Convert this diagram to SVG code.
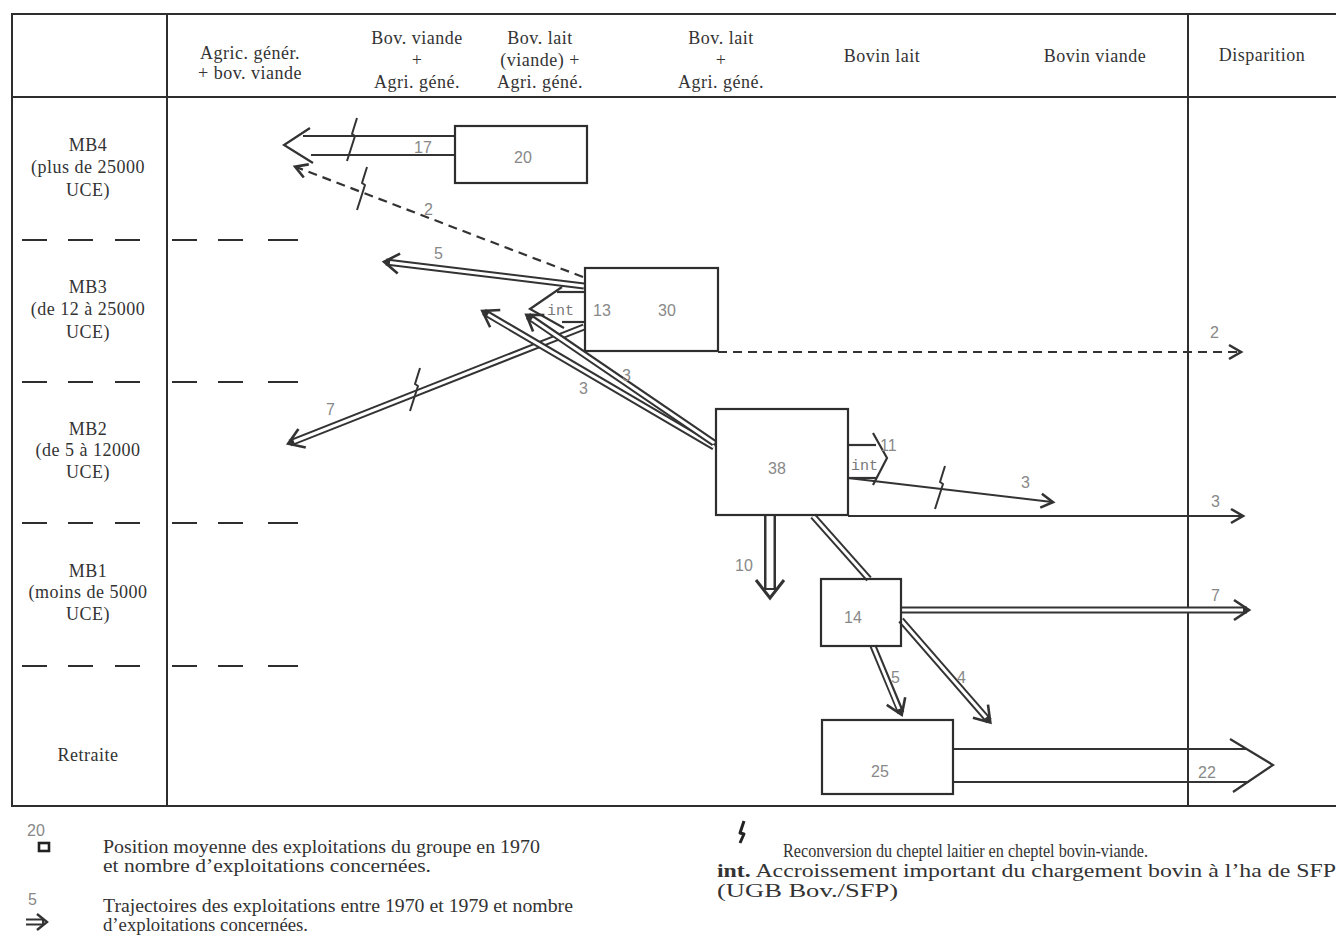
<svg xmlns="http://www.w3.org/2000/svg" xmlns:xlink="http://www.w3.org/1999/xlink" width="1336" height="943" viewBox="0 0 1336 943">
<style>
.frame line{stroke:#2e2e2e;stroke-width:2;fill:none}
.sep line{stroke:#2e2e2e;stroke-width:2}
.box{fill:none;stroke:#2e2e2e;stroke-width:2.2}
.hd{font-family:"Liberation Serif",serif;font-size:18px;letter-spacing:0.5px;fill:#333;text-anchor:middle}
.num{font-family:"Liberation Sans",sans-serif;font-size:16px;fill:#888}
.mono{font-family:"Liberation Mono",monospace;font-size:15px;fill:#777}
.lg{font-family:"Liberation Serif",serif;font-size:18px;fill:#333}
.o{fill:none;stroke:#333;stroke-width:7}
.i{fill:none;stroke:#fff;stroke-width:3}
.ow{fill:none;stroke:#333;stroke-width:12}
.iw{fill:none;stroke:#fff;stroke-width:7}
.d{fill:none;stroke:#333;stroke-width:2.2;stroke-dasharray:9 6}
.ln{fill:none;stroke:#333;stroke-width:2.2}
.bolt{fill:none;stroke:#333;stroke-width:2;stroke-linejoin:round}
</style>
<defs>
<marker id="ch" markerUnits="userSpaceOnUse" orient="auto" refX="0" refY="0" markerWidth="40" markerHeight="40" viewBox="-20 -20 40 40" overflow="visible">
<path d="M-13,-10 L2,0 L-13,10" fill="none" stroke="#333" stroke-width="2.6"/>
</marker>
<marker id="chs" markerUnits="userSpaceOnUse" orient="auto" refX="0" refY="0" markerWidth="30" markerHeight="30" viewBox="-15 -15 30 30" overflow="visible">
<path d="M-11,-7 L1,0 L-11,7" fill="none" stroke="#333" stroke-width="2.6"/>
</marker>
<path id="bolt" d="M5,-21 L0,-5 L3,-3 L-5,22"/>
</defs>
<rect width="1336" height="943" fill="#fff"/>

<g id="frame" class="frame">
<line x1="12" y1="14" x2="1336" y2="14"/>
<line x1="12" y1="97" x2="1336" y2="97"/>
<line x1="12" y1="806" x2="1336" y2="806"/>
<line x1="12" y1="13" x2="12" y2="807"/>
<line x1="167" y1="14" x2="167" y2="806"/>
<line x1="1188" y1="14" x2="1188" y2="806"/>
</g>

<g id="row-separators" class="sep">
<line x1="22" y1="240" x2="47" y2="240"/><line x1="68" y1="240" x2="93" y2="240"/><line x1="115" y1="240" x2="140" y2="240"/><line x1="172" y1="240" x2="197" y2="240"/><line x1="218" y1="240" x2="243" y2="240"/><line x1="268" y1="240" x2="298" y2="240"/>
<line x1="22" y1="382" x2="47" y2="382"/><line x1="68" y1="382" x2="93" y2="382"/><line x1="115" y1="382" x2="140" y2="382"/><line x1="172" y1="382" x2="197" y2="382"/><line x1="218" y1="382" x2="243" y2="382"/><line x1="268" y1="382" x2="298" y2="382"/>
<line x1="22" y1="523" x2="47" y2="523"/><line x1="68" y1="523" x2="93" y2="523"/><line x1="115" y1="523" x2="140" y2="523"/><line x1="172" y1="523" x2="197" y2="523"/><line x1="218" y1="523" x2="243" y2="523"/><line x1="268" y1="523" x2="298" y2="523"/>
<line x1="22" y1="666" x2="47" y2="666"/><line x1="68" y1="666" x2="93" y2="666"/><line x1="115" y1="666" x2="140" y2="666"/><line x1="172" y1="666" x2="197" y2="666"/><line x1="218" y1="666" x2="243" y2="666"/><line x1="268" y1="666" x2="298" y2="666"/>
</g>

<g id="column-headers">
<text class="hd" x="250" y="59">Agric. génér.</text>
<text class="hd" x="250" y="79">+ bov. viande</text>
<text class="hd" x="417" y="44">Bov. viande</text>
<text class="hd" x="417" y="66">+</text>
<text class="hd" x="417" y="88">Agri. géné.</text>
<text class="hd" x="540" y="44">Bov. lait</text>
<text class="hd" x="540" y="66">(viande) +</text>
<text class="hd" x="540" y="88">Agri. géné.</text>
<text class="hd" x="721" y="44">Bov. lait</text>
<text class="hd" x="721" y="66">+</text>
<text class="hd" x="721" y="88">Agri. géné.</text>
<text class="hd" x="882" y="62">Bovin lait</text>
<text class="hd" x="1095" y="62">Bovin viande</text>
<text class="hd" x="1262" y="61">Disparition</text>
</g>

<g id="row-labels">
<text class="hd" x="88" y="151">MB4</text>
<text class="hd" x="88" y="173">(plus de 25000</text>
<text class="hd" x="88" y="196">UCE)</text>
<text class="hd" x="88" y="293">MB3</text>
<text class="hd" x="88" y="315">(de 12 à 25000</text>
<text class="hd" x="88" y="338">UCE)</text>
<text class="hd" x="88" y="435">MB2</text>
<text class="hd" x="88" y="456">(de 5 à 12000</text>
<text class="hd" x="88" y="478">UCE)</text>
<text class="hd" x="88" y="577">MB1</text>
<text class="hd" x="88" y="598">(moins de 5000</text>
<text class="hd" x="88" y="620">UCE)</text>
<text class="hd" x="88" y="761">Retraite</text>
</g>

<g id="connectors">
<g id="arrow-17">
<line class="ln" x1="455" y1="136" x2="303" y2="136"/>
<line class="ln" x1="455" y1="155" x2="311" y2="155"/>
<polyline class="ln" points="310,128 284,145 313,163"/>
<use href="#bolt" class="bolt" x="352" y="139"/>
<text class="num" x="414" y="153">17</text>
</g>
<g id="arrow-2a">
<path class="d" d="M583,277 L296,167" marker-end="url(#chs)"/>
<use href="#bolt" class="bolt" x="362" y="188"/>
<text class="num" x="424" y="215">2</text>
</g>
<g id="arrow-5a">
<path class="o" d="M584,286 L386,262" marker-end="url(#ch)"/>
<path class="i" d="M584,286 L390,262.5"/>
<text class="num" x="434" y="259">5</text>
</g>
<g id="arrow-int30">
<line class="ln" x1="585" y1="292" x2="557" y2="292"/>
<line class="ln" x1="585" y1="322" x2="562" y2="322"/>
<polyline class="ln" points="562,287 530,309 564,328"/>
<text class="mono" x="547" y="315">int</text>
</g>
<g id="arrow-7a">
<path class="o" d="M584,327 L290,443" marker-end="url(#ch)"/>
<path class="i" d="M584,327 L294,441.5"/>
<use href="#bolt" class="bolt" x="415" y="389"/>
<text class="num" x="326" y="415">7</text>
</g>
<g id="arrow-3a">
<path class="o" d="M714,447 L484,312" marker-end="url(#ch)"/>
<path class="i" d="M714,447 L488,314.5"/>
<text class="num" x="579" y="394">3</text>
</g>
<g id="arrow-3b">
<path class="o" d="M714,443 L528,316" marker-end="url(#ch)"/>
<path class="i" d="M714,443 L532,319"/>
<text class="num" x="622" y="381">3</text>
</g>
<g id="arrow-2b">
<path class="d" d="M718,352 L1240,352" marker-end="url(#chs)"/>
<text class="num" x="1210" y="338">2</text>
</g>
<g id="arrow-int38">
<line class="ln" x1="848" y1="445" x2="876" y2="445"/>
<line class="ln" x1="848" y1="478" x2="877" y2="478"/>
<polyline class="ln" points="873,433 887,458 873,485"/>
<text class="mono" x="851" y="470">int</text>
<text class="num" x="880" y="451">11</text>
</g>
<g id="arrow-3c">
<path class="ln" d="M848,478 L1052,502" marker-end="url(#chs)"/>
<use href="#bolt" class="bolt" x="940" y="487"/>
<text class="num" x="1021" y="488">3</text>
</g>
<g id="arrow-3d">
<path class="ln" d="M848,516 L1242,516" marker-end="url(#chs)"/>
<text class="num" x="1211" y="507">3</text>
</g>
<g id="arrow-10">
<path class="ow" d="M770,515 L770,590"/>
<path class="iw" d="M770,515 L770,588"/>
<polyline points="756,580 770,598 784,580" fill="none" stroke="#333" stroke-width="3"/>
<text class="num" x="735" y="571">10</text>
</g>
<g id="link-38-14">
<path class="o" d="M813,516 L869,579"/>
<path class="i" d="M813,516 L869,579"/>
</g>
<g id="arrow-7b">
<path class="o" d="M901,610 L1247,610" marker-end="url(#ch)"/>
<path class="i" d="M901,610 L1243,610"/>
<text class="num" x="1211" y="601">7</text>
</g>
<g id="arrow-5b">
<path class="o" d="M873,646 L901,713" marker-end="url(#ch)"/>
<path class="i" d="M873,646 L899,709"/>
<text class="num" x="891" y="683">5</text>
</g>
<g id="arrow-4">
<path class="o" d="M901,620 L989,721" marker-end="url(#ch)"/>
<path class="i" d="M901,620 L986,717.5"/>
<text class="num" x="957" y="683">4</text>
</g>
<g id="arrow-22">
<line class="ln" x1="953" y1="749" x2="1247" y2="749"/>
<line class="ln" x1="953" y1="782" x2="1249" y2="782"/>
<polyline class="ln" points="1230,739 1273,765 1233,792"/>
<text class="num" x="1198" y="778">22</text>
</g>
</g>

<g id="box-20">
<rect class="box" x="455" y="126" width="132" height="57"/>
<text class="num" x="523" y="163" text-anchor="middle">20</text>
</g>
<g id="box-30">
<rect class="box" x="585" y="268" width="133" height="83"/>
<text class="num" x="602" y="316" text-anchor="middle">13</text>
<text class="num" x="667" y="316" text-anchor="middle">30</text>
</g>
<g id="box-38">
<rect class="box" x="716" y="409" width="132" height="106"/>
<text class="num" x="777" y="474" text-anchor="middle">38</text>
</g>
<g id="box-14">
<rect class="box" x="821" y="579" width="80" height="67"/>
<text class="num" x="853" y="623" text-anchor="middle">14</text>
</g>
<g id="box-25">
<rect class="box" x="822" y="720" width="131" height="74"/>
<text class="num" x="880" y="777" text-anchor="middle">25</text>
</g>

<g id="legend">
<text class="num" x="27" y="836" font-size="13">20</text>
<rect x="39" y="843" width="10" height="8" fill="none" stroke="#222" stroke-width="2.6"/>
<text class="lg" x="103" y="853" textLength="437" lengthAdjust="spacingAndGlyphs">Position moyenne des exploitations du groupe en 1970</text>
<text class="lg" x="103" y="872" textLength="328" lengthAdjust="spacingAndGlyphs">et nombre d’exploitations concernées.</text>
<text class="num" x="28" y="905" font-size="13">5</text>
<path d="M26,922 L44,922" fill="none" stroke="#333" stroke-width="7"/>
<path d="M26,922 L42,922" fill="none" stroke="#fff" stroke-width="3"/>
<polyline points="37,914 47,922 37,930" fill="none" stroke="#333" stroke-width="2.4"/>
<text class="lg" x="103" y="912" textLength="470" lengthAdjust="spacingAndGlyphs">Trajectoires des exploitations entre 1970 et 1979 et nombre</text>
<text class="lg" x="103" y="931" textLength="205" lengthAdjust="spacingAndGlyphs">d’exploitations concernées.</text>
<path d="M744,821 L740,833 L744,834 L740,843" fill="none" stroke="#222" stroke-width="3" stroke-linejoin="round"/>
<text class="lg" x="783" y="857" font-size="15.5" textLength="365" lengthAdjust="spacingAndGlyphs">Reconversion du cheptel laitier en cheptel bovin-viande.</text>
<text class="lg" x="717" y="877" font-size="20" textLength="619" lengthAdjust="spacingAndGlyphs"><tspan font-weight="bold">int.</tspan> Accroissement important du chargement bovin à l’ha de SFP</text>
<text class="lg" x="717" y="897" font-size="20" textLength="181" lengthAdjust="spacingAndGlyphs">(UGB Bov./SFP)</text>
</g>
</svg>
